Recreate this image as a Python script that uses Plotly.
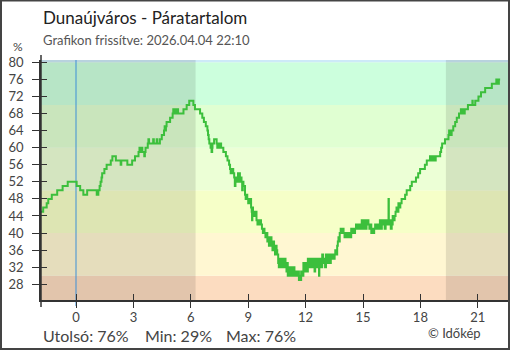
import plotly.graph_objects as go

# ---- data (minutes relative to midnight, humidity %) ----
times_min = [
    -110, -103, -92, -87, -76, -59, -42, -26, 2, 13, 23, 35, 65, 70, 74, 77, 80, 82, 89, 96,
    109, 114, 125, 140, 142, 161, 176, 185, 196, 199, 202, 205, 208, 214, 216, 218, 225, 227,
    229, 242, 244, 253, 255, 263, 269, 276, 278, 280, 282, 284, 295, 303, 305, 307, 309, 311,
    313, 315, 318, 320, 337, 347, 355, 368, 373, 389, 396, 401, 407, 412, 414, 416, 418, 422,
    425, 427, 428, 433, 441, 443, 445, 447, 449, 451, 453, 455, 462, 470, 475, 480, 483, 485,
    487, 489, 491, 493, 496, 498, 500, 502, 504, 506, 508, 510, 512, 514, 517, 519, 521, 523,
    525, 530, 532, 534, 537, 540, 542, 544, 546, 549, 551, 552, 553, 555, 557, 560, 562, 566,
    569, 571, 574, 577, 580, 583, 586, 588, 591, 594, 597, 600, 602, 605, 607, 610, 613, 616,
    618, 621, 624, 627, 629, 631, 634, 636, 638, 641, 643, 646, 648, 651, 654, 657, 660, 662,
    664, 667, 669, 672, 674, 677, 680, 682, 685, 688, 690, 693, 696, 699, 701, 703, 706, 709,
    713, 715, 718, 721, 724, 727, 730, 733, 736, 739, 742, 745, 748, 750, 753, 756, 759, 762,
    763, 766, 769, 772, 775, 778, 781, 784, 787, 790, 793, 796, 799, 802, 805, 808, 811, 813,
    816, 819, 821, 823, 825, 827, 830, 833, 836, 839, 842, 845, 848, 851, 854, 857, 860, 863,
    866, 869, 872, 875, 878, 881, 884, 887, 890, 893, 896, 899, 902, 905, 908, 911, 914, 917,
    920, 923, 926, 929, 932, 935, 938, 941, 944, 947, 950, 953, 956, 959, 962, 965, 968, 971,
    974, 977, 980, 981, 984, 987, 990, 993, 996, 999, 1002, 1005, 1008, 1011, 1014, 1017, 1021,
    1032, 1037, 1048, 1053, 1066, 1073, 1079, 1094, 1100, 1110, 1113, 1116, 1119, 1122, 1125,
    1128, 1142, 1145, 1148, 1157, 1168, 1170, 1172, 1178, 1183, 1189, 1194, 1201, 1207, 1210,
    1213, 1216, 1219, 1229, 1243, 1244, 1252, 1262, 1270, 1283, 1304, 1318, 1320, 1322, 1324,
    1326, 1330,
]
humidity = [
    45, 46, 47, 48, 49, 50, 51, 52, 51, 50, 49, 50, 49, 50, 51, 52, 53, 54, 55, 56,
    57, 58, 57, 56, 57, 56, 57, 58, 59, 60, 59, 60, 59, 58, 59, 60, 61, 62,
    61, 62, 61, 62, 61, 62, 63, 64, 65, 64, 65, 66, 67, 68, 69, 68, 69, 68,
    69, 68, 69, 68, 69, 70, 71, 70, 69, 68, 67, 66, 65, 64, 63, 62, 61, 60,
    59, 60, 61, 62, 61, 60, 61, 60, 61, 60, 61, 60, 59, 58, 57, 56, 55, 54,
    55, 54, 55, 54, 53, 51, 53, 52, 53, 52, 54, 53, 54, 52, 53, 52, 50, 52,
    51, 49, 48, 49, 48, 47, 48, 47, 48, 46, 45, 43, 46, 44, 45, 44, 45, 43,
    42, 43, 42, 43, 42, 41, 40, 41, 40, 39, 40, 38, 39, 37, 38, 39, 37, 36,
    38, 37, 35, 37, 36, 35, 33, 32, 34, 32, 33, 34, 32, 33, 34, 32, 31, 33,
    30, 32, 31, 30, 32, 31, 30, 32, 31, 30, 31, 30, 31, 29, 30, 29, 31, 30,
    33, 31, 32, 33, 31, 34, 32, 34, 33, 32, 34, 33, 31, 34, 33, 32, 34, 30,
    33, 34, 32, 35, 33, 34, 32, 35, 33, 35, 34, 33, 35, 34, 35, 34, 35, 36,
    35, 37, 38, 39, 38, 40, 41, 40, 41, 40, 39, 40, 39, 40, 39, 40, 39, 41,
    40, 41, 40, 41, 42, 41, 42, 41, 42, 41, 43, 41, 42, 43, 41, 42, 43, 42,
    41, 42, 40, 41, 40, 41, 42, 41, 42, 41, 42, 43, 41, 42, 43, 42, 41, 43,
    42, 43, 48, 42, 43, 41, 42, 44, 43, 44, 45, 46, 45, 47, 46, 47, 48,
    49, 50, 51, 52, 53, 54, 55, 56, 57, 58, 57, 58, 57, 58, 57,
    58, 59, 60, 61, 62, 63, 64, 63, 64, 65, 66, 67, 68, 69, 68,
    69, 68, 69, 70, 71, 70, 71, 72, 73, 74, 75, 76, 75, 76, 75,
    76, 76,
]
hours = [m / 60 for m in times_min]

x_ticks = [0, 3, 6, 9, 12, 15, 18, 21]
y_ticks = [28, 32, 36, 40, 44, 48, 52, 56, 60, 64, 68, 72, 76, 80]

# humidity background zones (lower, upper, colour)
zone_bounds = [0, 30, 40, 50, 60, 70, 80, 100]
zone_colors = ["#fcdcc0", "#fff7d2", "#f6ffc8", "#ecffd6", "#e0ffd2", "#ccffdd", "#cdeaf8"]

# night periods (hours)
sunrise_h = 6.25
sunset_h = 19.33

x_range = [-1.83, 22.63]
y_range = [24.32, 80.54]

title_text = "Dunaújváros - Páratartalom"
subtitle_text = "Grafikon frissítve: 2026.04.04 22:10"
footer_items = ["Utolsó: 76%", "Min: 29%", "Max: 76%"]

# ---- layout geometry ----
W, H = 510, 350
ML, MR, MT, MB = 41, 1, 60, 50
PW, PH = W - ML - MR, H - MT - MB


def px_x(px):
    return (px - ML) / PW


def px_y(py):
    return (H - MB - py) / PH


FONT = "Lato"
TXT = "#444"

fig = go.Figure()
fig.add_trace(go.Scatter(
    x=hours, y=humidity, mode="lines", line=dict(color="#3cbf3c", width=2, shape="hv"),
    hoverinfo="skip", showlegend=False,
))
# helper trace to create overlay axes (inside tick halves)
fig.add_trace(go.Scatter(x=[None], y=[None], xaxis="x2", yaxis="y2", showlegend=False,
                         hoverinfo="skip"))

shapes = []
for lo, hi, col in zip(zone_bounds[:-1], zone_bounds[1:], zone_colors):
    shapes.append(dict(type="rect", xref="paper", yref="y", x0=0, x1=1, y0=lo, y1=hi,
                       fillcolor=col, line=dict(width=0), layer="below"))
for a, b in [(x_range[0], sunrise_h), (sunset_h, x_range[1])]:
    shapes.append(dict(type="rect", xref="x", yref="paper", x0=a, x1=b, y0=0, y1=1,
                       fillcolor="rgba(0,0,0,0.10)", line=dict(width=0), layer="below"))
# midnight marker
shapes.append(dict(type="line", xref="x", yref="paper", x0=0, x1=0, y0=px_y(306), y1=1,
                   line=dict(color="#3d8fd6", width=1), layer="below"))
# y axis line extension
shapes.append(dict(type="line", xref="paper", yref="paper", x0=0, x1=0,
                   y0=px_y(307), y1=px_y(55), line=dict(color="#333", width=1.5)))
# outer frame
shapes.append(dict(type="rect", xref="paper", yref="paper",
                   x0=px_x(1), x1=px_x(509), y0=px_y(349), y1=px_y(0.5),
                   line=dict(color="#444", width=2), fillcolor="rgba(0,0,0,0)"))

annotations = [
    dict(text=title_text, x=px_x(41), y=px_y(18), xref="paper", yref="paper",
         xanchor="left", yanchor="middle", showarrow=False,
         font=dict(family=FONT, size=17, color="#222")),
    dict(text=subtitle_text, x=px_x(41), y=px_y(40), xref="paper", yref="paper",
         xanchor="left", yanchor="middle", showarrow=False,
         font=dict(family=FONT, size=13, color="#555")),
    dict(text="%", x=px_x(18), y=px_y(46), xref="paper", yref="paper",
         xanchor="center", yanchor="middle", showarrow=False,
         font=dict(family=FONT, size=12, color=TXT)),
    dict(text="© Időkép", x=px_x(426), y=px_y(333), xref="paper", yref="paper",
         xanchor="left", yanchor="middle", showarrow=False,
         font=dict(family=FONT, size=13, color=TXT)),
]
for txt, xp in zip(footer_items, [41, 143, 224]):
    annotations.append(dict(text=txt, x=px_x(xp), y=px_y(335), xref="paper", yref="paper",
                            xanchor="left", yanchor="middle", showarrow=False,
                            font=dict(family=FONT, size=16, color=TXT)))

fig.update_layout(
    width=W, height=H, margin=dict(l=ML, r=MR, t=MT, b=MB),
    paper_bgcolor="white", plot_bgcolor="white",
    shapes=shapes, annotations=annotations, showlegend=False,
    font=dict(family=FONT, color=TXT, size=13),
    xaxis=dict(range=x_range, tickvals=x_ticks, ticktext=[str(t) for t in x_ticks],
               ticks="outside", ticklen=6, tickwidth=1.2, tickcolor="#333",
               showline=True, linecolor="#333", linewidth=1.5, showgrid=False,
               zeroline=False, ticklabelstandoff=-1,
               tickfont=dict(family=FONT, size=13, color=TXT)),
    yaxis=dict(range=y_range, tickvals=y_ticks, ticktext=[str(t) for t in y_ticks],
               ticks="outside", ticklen=7, tickwidth=1.2, tickcolor="#333",
               showline=True, linecolor="#333", linewidth=1.5, showgrid=False,
               zeroline=False, ticklabelstandoff=6,
               tickfont=dict(family=FONT, size=13, color=TXT)),
    xaxis2=dict(overlaying="x", anchor="y", side="bottom", range=x_range, tickvals=x_ticks,
                ticks="inside", ticklen=6, tickwidth=1.2, tickcolor="#333",
                showticklabels=False, showline=False, showgrid=False, zeroline=False),
    yaxis2=dict(overlaying="y", anchor="x", side="left", range=y_range, tickvals=y_ticks,
                ticks="inside", ticklen=6, tickwidth=1.2, tickcolor="#333",
                showticklabels=False, showline=False, showgrid=False, zeroline=False),
)

fig.write_html("out.html")
